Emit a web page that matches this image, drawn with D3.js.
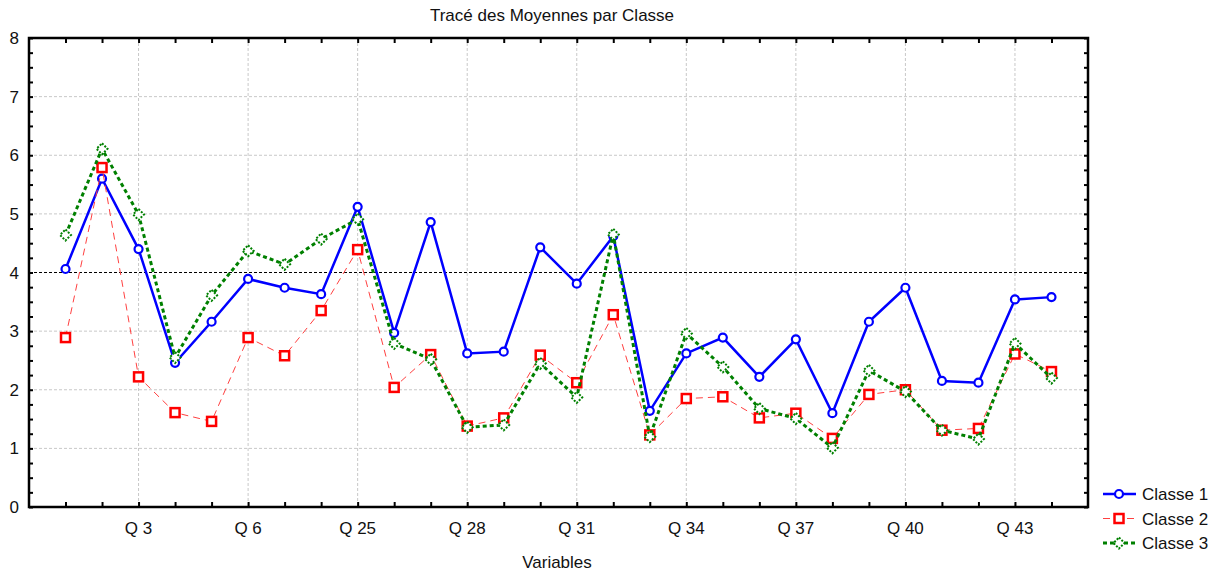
<!DOCTYPE html>
<html>
<head>
<meta charset="utf-8">
<script src="https://cdn.jsdelivr.net/npm/d3@7"></script>
<style>
body { margin: 0; background: #fff; }
text { font-family: Arial, "Liberation Sans", sans-serif; fill: #111; }
</style>
</head>
<body>
<div id="chart"></div>
<script>
const categories = ['Q 1', 'Q 2', 'Q 3', 'Q 4', 'Q 5', 'Q 6', 'Q 23', 'Q 24', 'Q 25', 'Q 26',
    'Q 27', 'Q 28', 'Q 29', 'Q 30', 'Q 31', 'Q 32', 'Q 33', 'Q 34', 'Q 35', 'Q 36',
    'Q 37', 'Q 38', 'Q 39', 'Q 40', 'Q 41', 'Q 42', 'Q 43', 'Q 44'];
const classe1 = [4.06, 5.60, 4.40, 2.46, 3.16, 3.89, 3.74, 3.63, 5.12, 2.97,
    4.86, 2.62, 2.65, 4.43, 3.81, 4.62, 1.64, 2.62, 2.89, 2.22,
    2.86, 1.60, 3.16, 3.74, 2.15, 2.12, 3.54, 3.58];
const classe2 = [2.89, 5.79, 2.22, 1.61, 1.46, 2.89, 2.58, 3.35, 4.39, 2.04,
    2.60, 1.38, 1.52, 2.59, 2.12, 3.28, 1.23, 1.85, 1.88, 1.52,
    1.60, 1.17, 1.92, 2.00, 1.31, 1.34, 2.61, 2.31];
const classe3 = [4.64, 6.11, 4.99, 2.55, 3.61, 4.37, 4.14, 4.57, 4.91, 2.79,
    2.52, 1.36, 1.40, 2.45, 1.87, 4.65, 1.20, 2.96, 2.39, 1.68,
    1.51, 1.01, 2.33, 1.97, 1.31, 1.16, 2.79, 2.20];
const seriesNames = ['Classe 1', 'Classe 2', 'Classe 3'];
const yTicks = [0, 1, 2, 3, 4, 5, 6, 7, 8];
const refLine = 4;

const W = 1224, H = 573;
const margin = { top: 38, right: 136, bottom: 66, left: 29 };
const width = W - margin.left - margin.right;
const height = H - margin.top - margin.bottom;

const svg = d3.select('#chart').append('svg')
    .attr('width', W).attr('height', H);

const g = svg.append('g')
    .attr('transform', `translate(${margin.left},${margin.top})`);

const x = d3.scaleLinear().domain([0, categories.length + 1]).range([0, width]);
const y = d3.scaleLinear().domain([0, 8]).range([height, 0]);

const idx = d3.range(1, categories.length + 1);
const labelled = idx.filter(i => i % 3 === 0);

// grid
g.append('g')
    .selectAll('line').data(yTicks.filter(t => t > 0 && t < 8)).join('line')
    .attr('x1', 0).attr('x2', width)
    .attr('y1', d => y(d)).attr('y2', d => y(d))
    .attr('stroke', '#c8c8c8').attr('stroke-dasharray', '3,2');
g.append('g')
    .selectAll('line').data(labelled).join('line')
    .attr('x1', d => x(d)).attr('x2', d => x(d))
    .attr('y1', 0).attr('y2', height)
    .attr('stroke', '#c8c8c8').attr('stroke-dasharray', '3,2');

// reference line
g.append('line')
    .attr('x1', 0).attr('x2', width)
    .attr('y1', y(refLine)).attr('y2', y(refLine))
    .attr('stroke', '#000').attr('stroke-width', 1).attr('stroke-dasharray', '3,2');

// axes
const minor = d3.range(0, 8.01, 0.25);
g.append('g')
    .call(d3.axisLeft(y).tickValues(minor).tickSize(-4).tickFormat(''))
    .call(a => a.select('.domain').remove())
    .selectAll('line').attr('stroke-width', 2);
g.append('g')
    .attr('transform', `translate(${width},0)`)
    .call(d3.axisRight(y).tickValues(minor).tickSize(-4).tickFormat(''))
    .call(a => a.select('.domain').remove())
    .selectAll('line').attr('stroke-width', 2);
g.append('g')
    .attr('transform', `translate(0,${height})`)
    .call(d3.axisBottom(x).tickValues(idx).tickSize(-5).tickFormat(''))
    .call(a => a.select('.domain').remove())
    .selectAll('line').attr('stroke-width', 2);
g.append('g')
    .call(d3.axisTop(x).tickValues(idx).tickSize(-5).tickFormat(''))
    .call(a => a.select('.domain').remove())
    .selectAll('line').attr('stroke-width', 2);

g.append('rect')
    .attr('x', 0).attr('y', 0).attr('width', width).attr('height', height)
    .attr('fill', 'none').attr('stroke', '#000').attr('stroke-width', 2.5);

g.append('g').selectAll('text').data(yTicks).join('text')
    .attr('x', -10).attr('y', d => y(d)).attr('dy', '0.36em')
    .attr('text-anchor', 'end').style('font-size', '17px')
    .text(d => d);

g.append('g').selectAll('text').data(labelled).join('text')
    .attr('x', d => x(d)).attr('y', height + 27)
    .attr('text-anchor', 'middle').style('font-size', '17px')
    .text(d => categories[d - 1]);

svg.append('text')
    .attr('x', 552).attr('y', 21).attr('text-anchor', 'middle')
    .style('font-size', '17px')
    .text('Tracé des Moyennes par Classe');

svg.append('text')
    .attr('x', 557).attr('y', 568).attr('text-anchor', 'middle')
    .style('font-size', '17px')
    .text('Variables');

// series
const styles = [
    { data: classe1, color: '#0000ff', width: 2.5, dash: null, marker: 'circle' },
    { data: classe2, color: '#ff0000', width: 1, dash: '7,5', marker: 'square', lineColor: '#ff4040' },
    { data: classe3, color: '#008000', width: 3, dash: '4,3', marker: 'diamond' }
];

const line = d3.line().x((d, i) => x(i + 1)).y(d => y(d));

function drawMarker(sel, type, color) {
    if (type === 'circle') {
        sel.append('circle').attr('r', 4)
            .attr('fill', '#fff').attr('stroke', color).attr('stroke-width', 2.2);
    } else if (type === 'square') {
        sel.append('rect').attr('x', -4.5).attr('y', -4.5).attr('width', 9).attr('height', 9)
            .attr('fill', '#fff').attr('stroke', color).attr('stroke-width', 2.5);
    } else {
        sel.append('path').attr('d', 'M0,-5.5L5.5,0L0,5.5L-5.5,0Z')
            .attr('fill', '#fff').attr('stroke', color).attr('stroke-width', 2)
            .attr('stroke-dasharray', '2,1.5');
    }
}

styles.forEach(s => {
    g.append('path').datum(s.data)
        .attr('d', line)
        .attr('fill', 'none')
        .attr('stroke', s.lineColor || s.color)
        .attr('stroke-width', s.width)
        .attr('stroke-dasharray', s.dash);
    g.append('g').selectAll('g').data(s.data).join('g')
        .attr('transform', (d, i) => `translate(${x(i + 1)},${y(d)})`)
        .each(function() { drawMarker(d3.select(this), s.marker, s.color); });
});

// legend
const legend = svg.append('g').attr('transform', 'translate(1103,494)');
styles.forEach((s, i) => {
    const row = legend.append('g').attr('transform', `translate(0,${i * 24.5})`);
    row.append('line').attr('x1', 0).attr('x2', 33).attr('y1', 0).attr('y2', 0)
        .attr('stroke', s.lineColor || s.color).attr('stroke-width', s.width)
        .attr('stroke-dasharray', s.dash);
    const m = row.append('g').attr('transform', 'translate(16,0)');
    drawMarker(m, s.marker, s.color);
    row.append('text').attr('x', 39).attr('y', 0).attr('dy', '0.36em')
        .style('font-size', '17px').text(seriesNames[i]);
});
</script>
</body>
</html>
